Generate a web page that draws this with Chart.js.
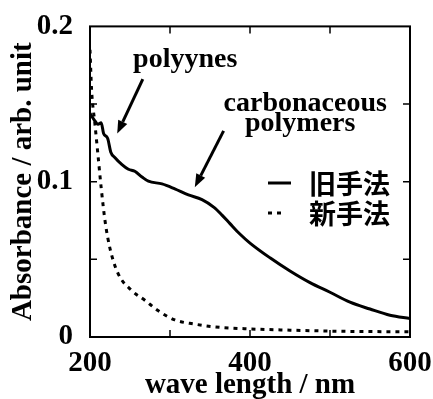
<!DOCTYPE html>
<html>
<head>
<meta charset="utf-8">
<script src="https://cdn.jsdelivr.net/npm/chart.js@4/dist/chart.umd.min.js"></script>
<style>
  html, body { margin: 0; padding: 0; background: #fff; }
  #wrap { width: 433px; height: 399px; }
</style>
</head>
<body>
<div id="wrap"><canvas id="absChart" width="433" height="399"></canvas></div>
<script>
// 旧手法 (solid)
const oldWave = [200, 205, 210, 214, 217, 222, 226, 231, 240, 248, 256, 265, 273, 290, 306, 323, 340, 355, 365, 375, 387, 400, 425, 450, 475, 500, 525, 550, 575, 600];
const oldAbs  = [0.144, 0.140, 0.137, 0.138, 0.131, 0.128, 0.119, 0.1156, 0.111, 0.108, 0.1067, 0.103, 0.1003, 0.0986, 0.0954, 0.0915, 0.0885, 0.0835, 0.0785, 0.073, 0.0665, 0.0605, 0.051, 0.0425, 0.035, 0.0288, 0.0224, 0.018, 0.014, 0.0119];

// 新手法 (dotted)
const newWave = [200, 202, 206, 210, 214, 219, 225, 235, 252, 269, 285, 306, 331, 354, 400, 450, 500, 550, 600];
const newAbs  = [0.185, 0.159, 0.138, 0.117, 0.096, 0.074, 0.057, 0.041, 0.030, 0.0235, 0.017, 0.011, 0.0083, 0.0066, 0.0052, 0.0044, 0.0038, 0.0035, 0.0034];

const seriesLabels = ['旧手法', '新手法'];
const xTickLabels = [200, 400, 600];
const yTickLabels = ['0', '0.1', '0.2'];
const xMarks = [300, 400, 500];
const yMarks = [0.05, 0.1, 0.15];

// annotations: text anchor and arrow (tail -> tip) in data units
const notes = [
    { lines: ['polyynes'], at: [319, 0.174], from: [266, 0.166], to: [234, 0.131] },
    { lines: ['carbonaceous', 'polymers'], at: [469, 0.1454], from: [367, 0.1327], to: [331, 0.0965] }
];

const serif = "'Liberation Serif', 'Times New Roman', serif";
const cjk = "'Noto Sans CJK JP', 'Noto Sans CJK SC', sans-serif";

function toPoints(xs, ys) {
    return xs.map((x, i) => ({ x: x, y: ys[i] }));
}

// frame + inward ticks on all four sides
const framePlugin = {
    id: 'frame',
    afterDatasetsDraw(chart) {
        const { ctx, chartArea: a, scales: { x, y } } = chart;
        ctx.save();
        ctx.strokeStyle = '#000';
        ctx.lineWidth = 2;
        ctx.strokeRect(a.left, a.top, a.right - a.left, a.bottom - a.top);
        ctx.lineWidth = 1.5;
        const len = 7;
        ctx.beginPath();
        xMarks.forEach(v => {
            const px = x.getPixelForValue(v);
            ctx.moveTo(px, a.bottom); ctx.lineTo(px, a.bottom - len);
            ctx.moveTo(px, a.top); ctx.lineTo(px, a.top + len);
        });
        yMarks.forEach(v => {
            const py = y.getPixelForValue(v);
            ctx.moveTo(a.left, py); ctx.lineTo(a.left + len, py);
            ctx.moveTo(a.right, py); ctx.lineTo(a.right - len, py);
        });
        ctx.stroke();
        ctx.restore();
    }
};

// legend and arrow labels
const notesPlugin = {
    id: 'notes',
    afterDraw(chart) {
        const { ctx, scales: { x, y } } = chart;
        ctx.save();
        ctx.fillStyle = '#000';
        ctx.strokeStyle = '#000';

        // legend, drawn from the datasets
        chart.data.datasets.forEach((ds, i) => {
            const ly = 183 + i * 30;
            ctx.lineWidth = ds.borderWidth;
            ctx.setLineDash(ds.borderDash || []);
            ctx.beginPath();
            ctx.moveTo(268, ly);
            ctx.lineTo(i === 0 ? 291 : 286, ly);
            ctx.stroke();
            ctx.setLineDash([]);
            ctx.font = 'bold 27px ' + cjk;
            ctx.textAlign = 'left';
            ctx.textBaseline = 'middle';
            ctx.fillText(ds.label, 309, ly + 1);
        });

        notes.forEach(n => {
            ctx.font = 'bold 28px ' + serif;
            ctx.textAlign = 'center';
            ctx.textBaseline = 'alphabetic';
            const tx = x.getPixelForValue(n.at[0]);
            const ty = y.getPixelForValue(n.at[1]);
            n.lines.forEach((t, k) => ctx.fillText(t, tx - k * 5, ty + k * 20));

            const x0 = x.getPixelForValue(n.from[0]), y0 = y.getPixelForValue(n.from[1]);
            const x1 = x.getPixelForValue(n.to[0]), y1 = y.getPixelForValue(n.to[1]);
            const ang = Math.atan2(y1 - y0, x1 - x0);
            const head = 13, half = 5;
            const bx = x1 - head * Math.cos(ang), by = y1 - head * Math.sin(ang);
            ctx.lineWidth = 3;
            ctx.beginPath();
            ctx.moveTo(x0, y0);
            ctx.lineTo(bx, by);
            ctx.stroke();
            ctx.beginPath();
            ctx.moveTo(x1, y1);
            ctx.lineTo(bx + half * Math.sin(ang), by - half * Math.cos(ang));
            ctx.lineTo(bx - half * Math.sin(ang), by + half * Math.cos(ang));
            ctx.closePath();
            ctx.fill();
        });
        ctx.restore();
    }
};

new Chart(document.getElementById('absChart'), {
    type: 'line',
    data: {
        datasets: [{
            label: seriesLabels[0],
            data: toPoints(oldWave, oldAbs),
            borderColor: '#000',
            borderWidth: 3,
            pointRadius: 0,
            cubicInterpolationMode: 'monotone'
        }, {
            label: seriesLabels[1],
            data: toPoints(newWave, newAbs),
            borderColor: '#000',
            borderWidth: 3,
            borderDash: [4, 5],
            pointRadius: 0,
            cubicInterpolationMode: 'monotone'
        }]
    },
    options: {
        responsive: false,
        animation: false,
        devicePixelRatio: 1,
        layout: { padding: { top: 22, right: 23, left: 0, bottom: 0 } },
        plugins: { legend: { display: false }, tooltip: { enabled: false } },
        scales: {
            x: {
                type: 'linear',
                min: 200,
                max: 600,
                grid: { display: false },
                border: { display: false },
                afterFit: s => { s.height = 62; },
                ticks: {
                    stepSize: 100,
                    autoSkip: false,
                    maxRotation: 0,
                    padding: 1,
                    color: '#000',
                    font: { family: serif, size: 29, weight: 'bold', lineHeight: 1.2 },
                    callback: v => xTickLabels.includes(v) ? String(v) : ''
                },
                title: {
                    display: true,
                    text: 'wave length / nm',
                    color: '#000',
                    padding: { top: 0, bottom: 0 },
                    font: { family: serif, size: 29, weight: 'bold', lineHeight: 0.9 }
                }
            },
            y: {
                min: 0,
                max: 0.2,
                grid: { display: false },
                border: { display: false },
                afterFit: s => { s.width = 90; },
                ticks: {
                    stepSize: 0.05,
                    autoSkip: false,
                    padding: 9,
                    color: '#000',
                    font: { family: serif, size: 29, weight: 'bold' },
                    callback: v => {
                        const s = String(Math.round(v * 100) / 100);
                        return yTickLabels.includes(s) ? s : '';
                    }
                },
                title: {
                    display: true,
                    text: 'Absorbance / arb. unit',
                    color: '#000',
                    padding: { top: 9, bottom: 0 },
                    font: { family: serif, size: 29, weight: 'bold', lineHeight: 1 }
                }
            }
        }
    },
    plugins: [framePlugin, notesPlugin]
});
</script>
</body>
</html>
